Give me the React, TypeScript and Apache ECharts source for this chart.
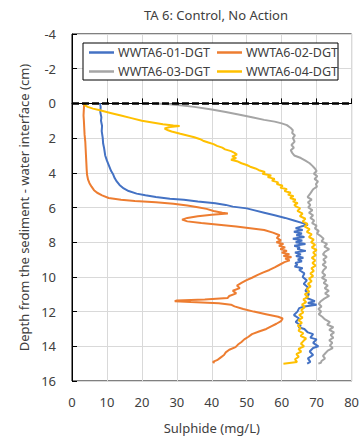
import React, { useEffect, useRef } from "react";
import * as echarts from "echarts";

const title = "TA 6: Control, No Action";
const xName = "Sulphide (mg/L)";
const yName = "Depth from the sediment - water interface (cm)";
const seriesNames = ["WWTA6-01-DGT", "WWTA6-02-DGT", "WWTA6-03-DGT", "WWTA6-04-DGT"];
const colors = ["#4472C4", "#ED7D31", "#A5A5A5", "#FFC000"];

// [sulphide (mg/L), depth (cm)]
const s01: number[][] = [
  [8.0, 0], [8.2, 0.2], [8.1, 0.5], [8.4, 0.8], [8.3, 1.0], [8.6, 1.3], [8.5, 1.6], [8.8, 2.0],
  [8.9, 2.3], [9.2, 2.6], [9.5, 3.0], [10.0, 3.3], [10.6, 3.6], [11.2, 3.9], [11.8, 4.1], [12.2, 4.3],
  [12.8, 4.5], [13.6, 4.7], [14.8, 4.9], [16.2, 5.05], [18.5, 5.2], [21, 5.3], [24, 5.4], [28, 5.5],
  [32, 5.55], [36, 5.65], [41, 5.75], [44, 5.85], [46, 5.95], [50, 6.05], [52, 6.15], [55, 6.3],
  [58, 6.45], [61, 6.6], [63.5, 6.75], [66, 6.9], [67.5, 7.0], [65.5, 7.1], [64, 7.2], [66, 7.3],
  [63.5, 7.4], [65.8, 7.5], [64.2, 7.6], [66.5, 7.7], [63.2, 7.8], [65.9, 7.9], [64, 8.0], [66.8, 8.1],
  [63.6, 8.2], [65.2, 8.3], [64.5, 8.4], [66.9, 8.5], [63.8, 8.6], [65.5, 8.7], [64.1, 8.8], [66.2, 8.9],
  [64.6, 9.0], [65.8, 9.1], [63.9, 9.2], [64.5, 9.3], [63.7, 9.4], [66, 9.5], [65, 9.6], [66.5, 9.8],
  [66, 10.0], [67.2, 10.2], [66.3, 10.4], [67.5, 10.6], [66.8, 10.8], [67.8, 11.0], [67, 11.2], [69.5, 11.4],
  [67.5, 11.5], [70, 11.6], [66.5, 11.7], [65, 11.8], [64.5, 12.0], [63.5, 12.2], [65, 12.4], [64, 12.6],
  [65.5, 12.8], [64.8, 12.9], [66.5, 13.0], [67.5, 13.2], [69, 13.3], [68.2, 13.5], [70, 13.6], [69, 13.8],
  [70.5, 14.0], [69, 14.1], [68, 14.3], [69, 14.5], [67.5, 14.7], [68.2, 14.9], [67.3, 15.0],
];

const s02: number[][] = [
  [3.5, 0], [3.4, 0.3], [3.3, 0.7], [3.4, 1.0], [3.5, 1.4], [3.6, 1.8], [3.8, 2.2], [3.9, 2.6],
  [4.0, 3.0], [4.1, 3.4], [4.2, 3.8], [4.3, 4.1], [4.6, 4.4], [5.0, 4.6], [5.6, 4.8], [6.3, 5.0],
  [7.2, 5.15], [8.6, 5.3], [10.5, 5.45], [14, 5.55], [18, 5.62], [24, 5.7], [29, 5.78], [33, 5.88],
  [36, 5.98], [38.5, 6.08], [40.5, 6.2], [43, 6.3], [44.6, 6.35], [40, 6.42], [36, 6.5], [33, 6.6],
  [31.5, 6.7], [33, 6.8], [37, 6.9], [42, 7.0], [47, 7.1], [51, 7.2], [55, 7.3], [57.5, 7.45],
  [59.4, 7.6], [58.6, 7.75], [59.8, 7.9], [58.5, 8.0], [60.5, 8.1], [59.2, 8.2], [61, 8.3], [59.6, 8.4],
  [61.5, 8.5], [60, 8.6], [62.2, 8.7], [60.5, 8.8], [62.8, 8.85], [61, 8.95], [62.3, 9.05], [60.8, 9.15],
  [59.4, 9.3], [58, 9.45], [56.5, 9.6], [54.6, 9.75], [53, 9.9], [51.5, 10.05], [49.8, 10.2], [48.5, 10.35],
  [47.2, 10.5], [48, 10.65], [46, 10.8], [47, 10.95], [45, 11.1], [44.5, 11.22], [38, 11.3], [30, 11.36],
  [29.4, 11.4], [34, 11.45], [42, 11.52], [45.5, 11.6], [46.5, 11.7], [49, 11.85], [52, 12.0], [55.5, 12.15],
  [59, 12.3], [60.3, 12.4], [59.8, 12.55], [58.5, 12.7], [57, 12.85], [55.6, 13.0], [53.5, 13.15], [51.5, 13.3],
  [50.5, 13.45], [49.3, 13.6], [48.5, 13.75], [47.5, 13.9], [46.8, 14.05], [45, 14.2], [44, 14.35], [43.5, 14.5],
  [42.5, 14.65], [41.5, 14.8], [40.3, 14.9], [40.8, 14.95],
];

const s03: number[][] = [
  [24, 0], [28, 0.05], [31, 0.1], [35, 0.2], [40, 0.35], [44, 0.5], [48, 0.65], [51.5, 0.8],
  [55, 0.95], [58, 1.05], [60, 1.15], [61.5, 1.25], [62.5, 1.4], [63.2, 1.55], [63, 1.7], [63.8, 1.85],
  [63.2, 2.0], [63.7, 2.2], [62.8, 2.4], [63.5, 2.55], [62.6, 2.7], [63, 2.85], [63.6, 3.0], [65.5, 3.15],
  [66.8, 3.3], [68, 3.45], [68.8, 3.6], [69.5, 3.75], [70, 3.9], [69.2, 4.05], [70.2, 4.2], [69.4, 4.35],
  [70.4, 4.5], [69.8, 4.65], [70.1, 4.8], [69, 4.95], [68.5, 5.1], [68, 5.25], [67.4, 5.4], [68.6, 5.55],
  [67.5, 5.7], [68.2, 5.85], [67.6, 6.0], [68.8, 6.15], [67.8, 6.3], [69, 6.45], [68.2, 6.6], [69.3, 6.75],
  [68.7, 6.9], [70, 7.05], [69.5, 7.2], [70.6, 7.35], [70.1, 7.5], [71.2, 7.65], [72, 7.8], [71.4, 7.95],
  [73, 8.1], [72.2, 8.25], [73.6, 8.4], [72.4, 8.55], [71.8, 8.7], [72.9, 8.85], [71.9, 9.0], [72.6, 9.15],
  [71.7, 9.3], [72.8, 9.45], [72, 9.6], [71.6, 9.75], [72.5, 9.9], [71.5, 10.05], [72.8, 10.2], [72, 10.35],
  [73.2, 10.5], [72.3, 10.65], [73.5, 10.8], [72.4, 10.95], [73.6, 11.1], [72.2, 11.25], [71.2, 11.4], [70.6, 11.55],
  [71.4, 11.7], [70.5, 11.85], [71.3, 12.0], [70.6, 12.15], [71.6, 12.3], [72.4, 12.45], [73.8, 12.6], [73, 12.75],
  [74.8, 12.9], [73.6, 13.05], [75, 13.2], [74, 13.35], [74.8, 13.5], [73.6, 13.65], [74.5, 13.8], [73.8, 13.95],
  [74.6, 14.1], [73.2, 14.25], [72.5, 14.4], [71.8, 14.55], [72.4, 14.7], [71.4, 14.85], [71.2, 14.95], [70.5, 15.0],
];

const s04: number[][] = [
  [3.5, 0], [3.6, 0.1], [4.5, 0.2], [6, 0.3], [8, 0.4], [11, 0.55], [14, 0.7], [17, 0.85],
  [20, 1.0], [23, 1.1], [26, 1.2], [29, 1.27], [30.8, 1.3], [28, 1.36], [26.5, 1.45], [27.5, 1.55],
  [28.5, 1.62], [31, 1.75], [33, 1.85], [35, 1.95], [36.5, 2.05], [37.5, 2.15], [39, 2.25], [40.5, 2.35],
  [41.5, 2.45], [43, 2.55], [43.8, 2.65], [45.5, 2.75], [46.5, 2.85], [47.2, 2.95], [45.8, 3.05], [47, 3.15],
  [45.5, 3.25], [47.5, 3.35], [48.5, 3.45], [50, 3.55], [51, 3.65], [52.5, 3.75], [53.5, 3.85], [55.2, 3.95],
  [54.5, 4.05], [57, 4.15], [56, 4.25], [58, 4.35], [57.2, 4.45], [59, 4.55], [58.6, 4.65], [60.3, 4.75],
  [59.6, 4.85], [61.5, 4.95], [60.8, 5.05], [62.6, 5.15], [61.8, 5.25], [63.4, 5.35], [62.4, 5.45], [64, 5.55],
  [63.2, 5.65], [64.6, 5.75], [63.6, 5.85], [64.2, 5.95], [65.3, 6.05], [64.5, 6.2], [66, 6.35], [65.2, 6.5],
  [66.8, 6.65], [66, 6.8], [67.4, 6.95], [66.6, 7.1], [68, 7.25], [67.2, 7.4], [68.6, 7.55], [67.8, 7.7],
  [69.2, 7.85], [68.4, 8.0], [69.6, 8.15], [68.6, 8.3], [70, 8.45], [69, 8.6], [69.8, 8.75], [68.6, 8.9],
  [69.6, 9.05], [68.8, 9.2], [69.7, 9.35], [68.5, 9.5], [69.2, 9.65], [68.2, 9.8], [69, 9.95], [67.8, 10.1],
  [68.6, 10.25], [67.5, 10.4], [68.3, 10.55], [67.2, 10.7], [67.9, 10.85], [66.6, 11.0], [67.6, 11.15], [66.2, 11.3],
  [67, 11.45], [65.8, 11.6], [66.6, 11.75], [65.6, 11.9], [66.2, 12.05], [65, 12.2], [66, 12.35], [64.8, 12.5],
  [65.8, 12.65], [64.6, 12.8], [65.4, 12.95], [64.8, 13.1], [66.2, 13.25], [65.4, 13.4], [67, 13.55], [66.2, 13.7],
  [65.5, 13.85], [66.4, 14.0], [64.8, 14.15], [65.6, 14.3], [64.2, 14.45], [64.9, 14.6], [63.8, 14.75], [64.4, 14.9],
  [60.5, 15.0],
];

const interfaceLine: number[][] = [[0, 0], [80, 0]];

const FONT = "Noto Sans";

export default function App() {
  const ref = useRef<HTMLDivElement>(null);
  useEffect(() => {
    if (!ref.current) return;
    const chart = echarts.init(ref.current, undefined, { renderer: "svg" });
    const data = [s01, s02, s03, s04];
    const legendBase = {
      orient: "horizontal" as const,
      left: 84,
      icon: "rect",
      itemWidth: 25,
      itemHeight: 2.5,
      itemGap: 7,
      padding: [2, 5, 2, 5],
      textStyle: { fontFamily: FONT, fontSize: 12.5, color: "#404040", padding: [0, 0, 0, -1] },
    };
    chart.setOption({
      animation: false,
      title: {
        text: title,
        left: 211,
        textAlign: "center",
        top: 3,
        textStyle: { fontFamily: FONT, fontSize: 13, fontWeight: "normal", color: "#404040" },
      },
      legend: [
        { ...legendBase, top: 44, data: [seriesNames[0], seriesNames[1]] },
        { ...legendBase, top: 63, data: [seriesNames[2], seriesNames[3]] },
      ],
      grid: {
        left: 72,
        right: 10,
        top: 34,
        bottom: 61,
        show: true,
        borderColor: "#000",
        borderWidth: 1,
        backgroundColor: "transparent",
      },
      xAxis: {
        type: "value",
        min: 0,
        max: 80,
        interval: 10,
        name: xName,
        nameLocation: "middle",
        nameGap: 40,
        nameTextStyle: { fontFamily: FONT, fontSize: 13, color: "#404040" },
        axisLine: { show: true, lineStyle: { color: "#000", width: 1 } },
        axisTick: { show: true, inside: true, length: 5, lineStyle: { color: "#000" } },
        axisLabel: { fontFamily: FONT, fontSize: 13, color: "#404040", margin: 14 },
        splitLine: { show: true, lineStyle: { color: "#D9D9D9", width: 1 } },
      },
      yAxis: {
        type: "value",
        inverse: true,
        min: -4,
        max: 16,
        interval: 2,
        name: yName,
        nameLocation: "middle",
        nameGap: 42,
        nameTextStyle: { fontFamily: FONT, fontSize: 13, color: "#404040" },
        axisLine: { show: true, lineStyle: { color: "#000", width: 1 } },
        axisTick: { show: true, inside: true, length: 5, lineStyle: { color: "#000" } },
        axisLabel: { fontFamily: FONT, fontSize: 13, color: "#404040", margin: 16 },
        splitLine: { show: true, lineStyle: { color: "#D9D9D9", width: 1 } },
      },
      series: [
        ...data.map((d, i) => ({
          name: seriesNames[i],
          type: "line",
          data: d,
          symbol: "none",
          smooth: false,
          color: colors[i],
          lineStyle: { color: colors[i], width: 2 },
          z: 3 + i,
        })),
        {
          name: "interface",
          type: "line",
          data: interfaceLine,
          symbol: "none",
          lineStyle: { color: "#000", width: 2.5, type: [7, 3] },
          z: 10,
          silent: true,
        },
      ],
    });
    // legend border box
    chart.setOption({
      graphic: [
        {
          type: "rect",
          shape: { x: 83, y: 43, width: 255, height: 37 },
          style: { fill: "#fff", stroke: "#000", lineWidth: 1 },
          z: 0,
          zlevel: 0,
        },
      ],
    });
    return () => chart.dispose();
  }, []);
  return <div ref={ref} style={{ width: 362, height: 442, position: "absolute", left: 0, top: 0 }} />;
}
